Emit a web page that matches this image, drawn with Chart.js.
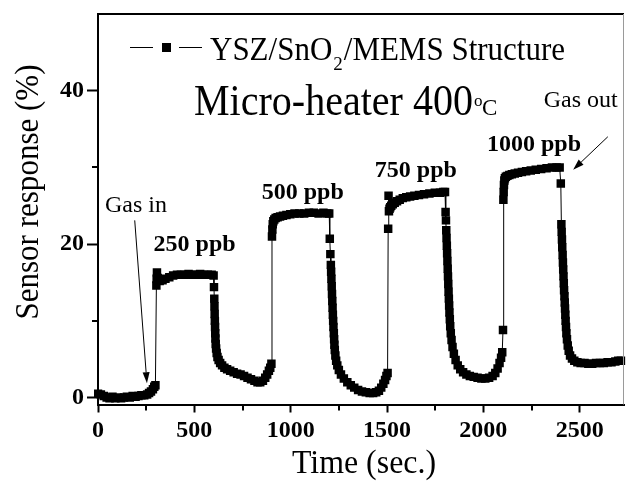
<!DOCTYPE html>
<html>
<head>
<meta charset="utf-8">
<script src="https://cdn.jsdelivr.net/npm/chart.js@4/dist/chart.umd.min.js"></script>
<style>
  html, body { margin: 0; padding: 0; background: #fff; }
  #wrap { width: 630px; height: 490px; }
</style>
</head>
<body>
<div id="wrap"><canvas id="c" width="630" height="490"></canvas></div>
<script>
const SERIF = "'Liberation Serif', 'Times New Roman', serif";

// Sensor response (%) versus time (s), one block per exposure phase.
// Baseline in air before the first exposure
const tAir = [0, 15, 30, 45, 60, 75, 90, 105, 120, 135, 150, 165, 180, 195, 210, 225, 240, 255, 265, 275, 285, 292, 298];
const vAir = [0.5, 0.4, 0.2, 0.0, -0.1, 0.1, -0.1, 0.0, -0.1, 0.0, 0.1, 0.0, 0.2, 0.1, 0.2, 0.3, 0.3, 0.4, 0.6, 0.8, 1.1, 1.4, 1.6];

// 250 ppb on / off
const tOn250 = [303, 304.5, 306, 310, 320, 335, 350, 370, 390, 410, 430, 450, 470, 490, 510, 530, 550, 570, 590, 600];
const vOn250 = [14.6, 15.5, 16.3, 15.6, 15.2, 15.3, 15.5, 15.7, 15.9, 16.0, 16.0, 16.0, 16.1, 16.0, 16.0, 16.1, 16.0, 16.0, 16.0, 15.9];
const tOff250 = [602, 603.5, 604.5, 605.5, 606.5, 607.5, 608.5, 609.5, 611, 613, 616, 620, 626, 634, 644, 656, 670, 686, 704, 722, 740, 758, 776, 794, 812, 828, 842, 856, 868, 878, 887, 894, 900];
const vOff250 = [14.4, 12.9, 11.9, 10.9, 10.0, 9.2, 8.4, 7.7, 7.0, 6.4, 5.8, 5.3, 4.9, 4.5, 4.2, 3.9, 3.7, 3.5, 3.3, 3.1, 3.0, 2.8, 2.6, 2.4, 2.2, 2.0, 2.0, 2.2, 2.6, 3.0, 3.5, 3.9, 4.4];

// 500 ppb on / off
const tOn500 = [903, 905, 907, 910, 915, 922, 932, 945, 960, 978, 998, 1020, 1045, 1070, 1095, 1120, 1145, 1170, 1190, 1200];
const vOn500 = [21.0, 21.9, 22.6, 23.0, 23.2, 23.4, 23.5, 23.6, 23.7, 23.8, 23.9, 24.0, 24.0, 24.0, 24.1, 24.1, 24.0, 24.1, 24.0, 24.0];
const tOff500 = [1203, 1206, 1208.5, 1210, 1211.5, 1213, 1214.5, 1216, 1217.5, 1219, 1220.5, 1222, 1224, 1225.5, 1227, 1229, 1232, 1236, 1242, 1250, 1261, 1276, 1294, 1312, 1330, 1350, 1370, 1390, 1410, 1428, 1444, 1458, 1470, 1481, 1490, 1497, 1503];
const vOff500 = [20.7, 18.7, 17.3, 16.4, 15.5, 14.5, 13.5, 12.6, 11.7, 10.8, 10.0, 9.2, 8.4, 7.6, 6.9, 6.2, 5.5, 4.8, 4.2, 3.6, 3.0, 2.5, 2.0, 1.6, 1.3, 1.0, 0.8, 0.7, 0.6, 0.6, 0.7, 0.9, 1.3, 1.8, 2.3, 2.8, 3.2];

// 750 ppb on / off
const tOn750 = [1506, 1508, 1510, 1513, 1517, 1522, 1530, 1540, 1552, 1566, 1582, 1600, 1620, 1642, 1666, 1692, 1720, 1748, 1775, 1792, 1801];
const vOn750 = [22.0, 26.3, 24.3, 24.6, 24.8, 25.0, 25.2, 25.4, 25.6, 25.8, 26.0, 26.1, 26.2, 26.3, 26.4, 26.5, 26.6, 26.7, 26.7, 26.8, 26.8];
const tOff750 = [1804, 1806, 1807.5, 1809, 1810.5, 1812, 1813.5, 1815, 1816.5, 1818, 1819.5, 1821, 1822.5, 1824, 1826, 1828, 1831, 1835, 1840, 1847, 1856, 1867, 1880, 1895, 1912, 1930, 1950, 1970, 1990, 2010, 2030, 2048, 2062, 2074, 2084, 2092, 2098, 2102];
const vOff750 = [24.2, 23.1, 21.8, 20.8, 19.8, 18.8, 17.8, 16.8, 15.8, 14.8, 13.8, 12.9, 12.0, 11.1, 10.2, 9.3, 8.4, 7.5, 6.6, 5.7, 4.9, 4.2, 3.7, 3.3, 3.0, 2.8, 2.7, 2.6, 2.5, 2.5, 2.6, 2.8, 3.2, 3.8, 4.5, 5.2, 5.9, 8.8];

// 1000 ppb on / off
const tOn1000 = [2104, 2105.5, 2107, 2109, 2112, 2117, 2125, 2135, 2148, 2163, 2180, 2200, 2222, 2246, 2272, 2300, 2328, 2356, 2380, 2396];
const vOn1000 = [25.8, 26.8, 27.7, 28.3, 28.6, 28.8, 28.9, 29.0, 29.1, 29.2, 29.3, 29.4, 29.5, 29.6, 29.7, 29.8, 29.9, 30.0, 30.0, 30.0];
const tOff1000 = [2402, 2405, 2406.5, 2408, 2409.5, 2411.5, 2413, 2414.5, 2416, 2417.5, 2419, 2421, 2422.5, 2424, 2425.5, 2427, 2429, 2431, 2434, 2438, 2443, 2450, 2460, 2472, 2488, 2505, 2525, 2545, 2565, 2585, 2605, 2625, 2645, 2665, 2685, 2700, 2714];
const vOff1000 = [27.9, 22.6, 21.6, 20.6, 19.6, 18.6, 17.6, 16.7, 15.8, 14.9, 14.0, 13.2, 12.4, 11.6, 10.8, 10.0, 9.2, 8.4, 7.6, 6.8, 6.1, 5.5, 5.1, 4.8, 4.6, 4.5, 4.5, 4.4, 4.4, 4.5, 4.5, 4.5, 4.6, 4.6, 4.7, 4.8, 4.8];

const timeSec = [].concat(tAir, tOn250, tOff250, tOn500, tOff500, tOn750, tOff750, tOn1000, tOff1000);
const responsePct = [].concat(vAir, vOn250, vOff250, vOn500, vOff500, vOn750, vOff750, vOn1000, vOff1000);

// Axis ticks: labelled majors and unlabelled minors
const xMajorTicks = [0, 500, 1000, 1500, 2000, 2500];
const xTickLabels = ['0', '500', '1000', '1500', '2000', '2500'];
const xMinorTicks = [250, 750, 1250, 1750, 2250];
const yMajorTicks = [0, 20, 40];
const yTickLabels = ['0', '20', '40'];
const yMinorTicks = [10, 30];

// Texts
const seriesName = ['YSZ/SnO', '2', '/MEMS Structure'];
const heaterText = ['Micro-heater 400', 'o', 'C'];
const concLabels = ['250 ppb', '500 ppb', '750 ppb', '1000 ppb'];
const gasInText = 'Gas in';
const gasOutText = 'Gas out';

const points = timeSec.map((t, i) => ({ x: t, y: responsePct[i] }));

// draw a string, optionally squeezed horizontally to a given width; returns drawn width
function drawText(ctx, str, x, y, font, width) {
  ctx.font = font;
  const w = ctx.measureText(str).width;
  const k = width ? width / w : 1;
  ctx.save();
  ctx.translate(x, y);
  ctx.scale(k, 1);
  ctx.fillText(str, 0, 0);
  ctx.restore();
  return w * k;
}

function arrow(ctx, x1, y1, x2, y2) {
  const ang = Math.atan2(y2 - y1, x2 - x1);
  const L = 11, H = 3.5;
  const bx = x2 - L * Math.cos(ang), by = y2 - L * Math.sin(ang);
  ctx.lineWidth = 1;
  ctx.beginPath();
  ctx.moveTo(x1, y1);
  ctx.lineTo(bx, by);
  ctx.stroke();
  ctx.beginPath();
  ctx.moveTo(x2, y2);
  ctx.lineTo(bx - H * Math.sin(ang), by + H * Math.cos(ang));
  ctx.lineTo(bx + H * Math.sin(ang), by - H * Math.cos(ang));
  ctx.closePath();
  ctx.fill();
}

const overlay = {
  id: 'overlay',
  afterDraw(chart) {
    const { ctx, chartArea: a, scales: { x, y } } = chart;
    ctx.save();
    ctx.fillStyle = '#000';
    ctx.strokeStyle = '#000';
    ctx.textBaseline = 'alphabetic';
    ctx.textAlign = 'left';

    // frame: top and right edges
    ctx.lineWidth = 2;
    ctx.beginPath();
    ctx.moveTo(a.left - 1, a.top);
    ctx.lineTo(a.right, a.top);
    ctx.stroke();
    ctx.strokeStyle = '#9a9a9a';
    ctx.lineWidth = 1;
    ctx.beginPath();
    ctx.moveTo(a.right - 0.5, a.top);
    ctx.lineTo(a.right - 0.5, a.bottom);
    ctx.stroke();

    // minor ticks
    ctx.strokeStyle = '#000';
    ctx.lineWidth = 2;
    xMinorTicks.forEach(v => {
      const px = Math.round(x.getPixelForValue(v));
      ctx.beginPath(); ctx.moveTo(px, a.bottom); ctx.lineTo(px, a.bottom + 6); ctx.stroke();
    });
    yMinorTicks.forEach(v => {
      const py = Math.round(y.getPixelForValue(v));
      ctx.beginPath(); ctx.moveTo(a.left, py); ctx.lineTo(a.left - 6, py); ctx.stroke();
    });

    // axis titles
    const yTitle = 'Sensor response (%)';
    const yw = 255;
    ctx.save();
    ctx.translate(38, 192 + yw / 2);
    ctx.rotate(-Math.PI / 2);
    drawText(ctx, yTitle, 0, 0, '33px ' + SERIF, yw);
    ctx.restore();
    drawText(ctx, 'Time (sec.)', 292, 473, '33px ' + SERIF, 144);

    // legend
    const ly = 47;
    ctx.lineWidth = 1;
    ctx.beginPath(); ctx.moveTo(130, ly + 0.5); ctx.lineTo(153, ly + 0.5); ctx.stroke();
    ctx.beginPath(); ctx.moveTo(179, ly + 0.5); ctx.lineTo(202, ly + 0.5); ctx.stroke();
    ctx.fillRect(162, ly - 4, 9, 9);
    const big = '34px ' + SERIF, small = '19px ' + SERIF;
    ctx.font = big;
    const w0 = ctx.measureText(seriesName[0]).width;
    const w2 = ctx.measureText(seriesName[2]).width;
    ctx.font = small;
    const w1 = ctx.measureText(seriesName[1]).width + 2;
    const k = (355 - w1) / (w0 + w2);
    let cx = 210;
    cx += drawText(ctx, seriesName[0], cx, 60, big, w0 * k);
    drawText(ctx, seriesName[1], cx + 1, 70, small, null);
    cx += w1;
    drawText(ctx, seriesName[2], cx, 60, big, w2 * k);

    // heater temperature
    let hx = 194;
    hx += drawText(ctx, heaterText[0], hx, 115, '44px ' + SERIF, 279);
    drawText(ctx, heaterText[1], hx + 1, 106, '17px ' + SERIF, null);
    drawText(ctx, heaterText[2], hx + 9, 115, '23px ' + SERIF, null);

    // concentration labels
    const conc = [[288.5, 19.1], [850, 25.9], [1437, 28.75], [2019, 32.1]];
    concLabels.forEach((s, i) => {
      drawText(ctx, s, x.getPixelForValue(conc[i][0]), y.getPixelForValue(conc[i][1]), 'bold 24px ' + SERIF, null);
    });

    // gas in / gas out
    drawText(ctx, gasInText, x.getPixelForValue(36), y.getPixelForValue(24.2), '24px ' + SERIF, null);
    drawText(ctx, gasOutText, x.getPixelForValue(2313), y.getPixelForValue(37.9), '24px ' + SERIF, null);
    arrow(ctx, x.getPixelForValue(190.6), y.getPixelForValue(23.1), x.getPixelForValue(254), y.getPixelForValue(1.86));
    arrow(ctx, x.getPixelForValue(2646), y.getPixelForValue(34.0), x.getPixelForValue(2466), y.getPixelForValue(29.7));

    ctx.restore();
  }
};

new Chart(document.getElementById('c'), {
  type: 'line',
  data: {
    datasets: [{
      label: 'YSZ/SnO2/MEMS Structure',
      data: points,
      borderColor: '#000',
      borderWidth: 1,
      pointStyle: 'rect',
      pointRadius: 6,
      pointBackgroundColor: '#000',
      pointBorderColor: '#000',
      pointBorderWidth: 0,
      tension: 0,
      clip: 4
    }]
  },
  options: {
    responsive: false,
    animation: false,
    layout: { padding: { top: 14, right: 2, left: 0, bottom: 0 } },
    plugins: { legend: { display: false }, tooltip: { enabled: false } },
    scales: {
      x: {
        type: 'linear',
        min: 0,
        max: 2730,
        afterFit(s) { s.height = 85.5; },
        afterBuildTicks(s) { s.ticks = xMajorTicks.map(v => ({ value: v })); },
        border: { color: '#000', width: 2 },
        grid: { drawOnChartArea: false, tickLength: 8, tickWidth: 2, tickColor: '#000' },
        ticks: {
          maxRotation: 0,
          autoSkip: false,
          padding: 4,
          color: '#000',
          font: { family: SERIF, size: 24, weight: 'bold' },
          callback: (v, i) => xTickLabels[i]
        }
      },
      y: {
        type: 'linear',
        min: -0.9,
        max: 50,
        afterFit(s) { s.width = 98; },
        afterBuildTicks(s) { s.ticks = yMajorTicks.map(v => ({ value: v })); },
        border: { color: '#000', width: 2 },
        grid: { drawOnChartArea: false, tickLength: 11, tickWidth: 2, tickColor: '#000' },
        ticks: {
          autoSkip: false,
          padding: 3,
          color: '#000',
          font: { family: SERIF, size: 24, weight: 'bold', lineHeight: 0.9 },
          callback: (v, i) => yTickLabels[i]
        }
      }
    }
  },
  plugins: [overlay]
});
</script>
</body>
</html>
